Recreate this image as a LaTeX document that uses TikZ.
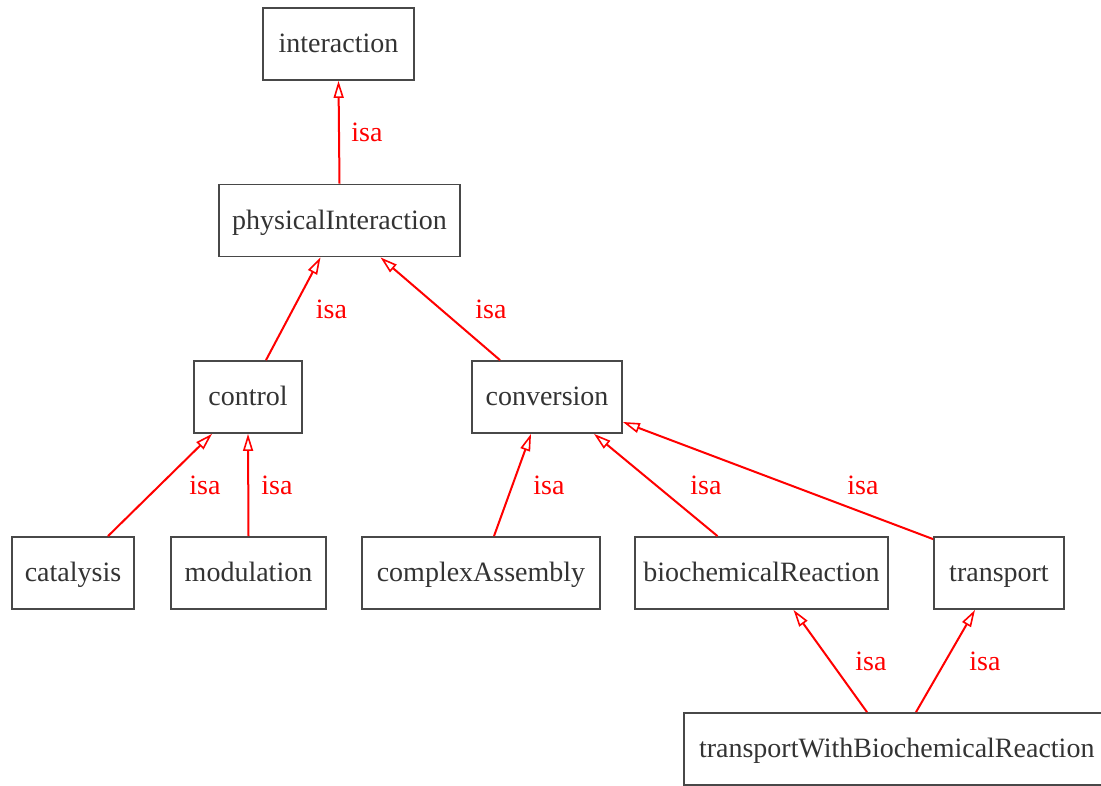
\documentclass[tikz,border=0pt]{standalone}
\usepackage{fontspec}
\setmainfont{Liberation Serif}
\usetikzlibrary{arrows.meta}
\definecolor{boxgray}{HTML}{484848}
\definecolor{isared}{HTML}{FF0000}
\begin{document}
\begin{tikzpicture}[x=1pt,y=-1pt,
  cls/.style={draw=boxgray, line width=1.8pt, rectangle, minimum height=72pt, inner sep=0pt,
    font=\fontsize{28}{30}\selectfont, text=black!80, text height=21pt, text depth=4pt},
  isaedge/.style={draw=isared, line width=2pt, -{Triangle[open, length=17pt, width=10pt, line width=1.6pt]}},
  lbl/.style={text=isared, anchor=base, inner sep=0pt, font=\fontsize{28}{30}\selectfont}]
\useasboundingbox (0,0) rectangle (1101,785);
\begin{scope}
\clip (0,0) rectangle (1101,785);
\node[cls, minimum width=151pt] (inter) at (338.5,44) {interaction};
\node[cls, minimum width=241pt] (phys) at (339.5,220.5) {physicalInteraction};
\node[cls, minimum width=108pt] (ctrl) at (248,397) {control};
\node[cls, minimum width=150pt] (conv) at (547,397) {conversion};
\node[cls, minimum width=122pt] (cat) at (73,573) {catalysis};
\node[cls, minimum width=155pt] (mod) at (248.5,573) {modulation};
\node[cls, minimum width=238pt] (cx) at (481,573) {complexAssembly};
\node[cls, minimum width=253pt] (bio) at (761.5,573) {biochemicalReaction};
\node[cls, minimum width=130pt] (trans) at (999,573) {transport};
\node[cls, minimum width=420pt, text width=390pt, align=left] (twb) at (894,749) {transportWithBiochemicalReaction};

\draw[isaedge] (phys.north) -- (inter.south);
\draw[isaedge] ([xshift=18pt]ctrl.north) -- ([xshift=-19pt]phys.south);
\draw[isaedge] ([xshift=-47pt]conv.north) -- ([xshift=41pt]phys.south);
\draw[isaedge] ([xshift=35pt]cat.north) -- ([xshift=-36pt]ctrl.south);
\draw[isaedge] (mod.north) -- (ctrl.south);
\draw[isaedge] ([xshift=13pt]cx.north) -- ([xshift=-16pt]conv.south);
\draw[isaedge] ([xshift=-44pt]bio.north) -- ([xshift=47pt]conv.south);
\draw[isaedge] ([yshift=-3pt]trans.north west) -- ([yshift=-25pt]conv.east);
\draw[isaedge] ([xshift=-27pt]twb.north) -- ([xshift=32pt]bio.south);
\draw[isaedge] ([xshift=22pt]twb.north) -- ([xshift=-24pt]trans.south);

\node[lbl] (l1) at (367,141) {isa};
\node[lbl] (l2) at (331.5,318) {isa};
\node[lbl] (l3) at (491,318) {isa};
\node[lbl] (l4) at (205,494) {isa};
\node[lbl] (l5) at (277,494) {isa};
\node[lbl] (l6) at (549,494) {isa};
\node[lbl] (l7) at (706,494) {isa};
\node[lbl] (l8) at (863,494) {isa};
\node[lbl] (l9) at (871,670) {isa};
\node[lbl] (l10) at (985,670) {isa};
\end{scope}
\end{tikzpicture}
\end{document}
